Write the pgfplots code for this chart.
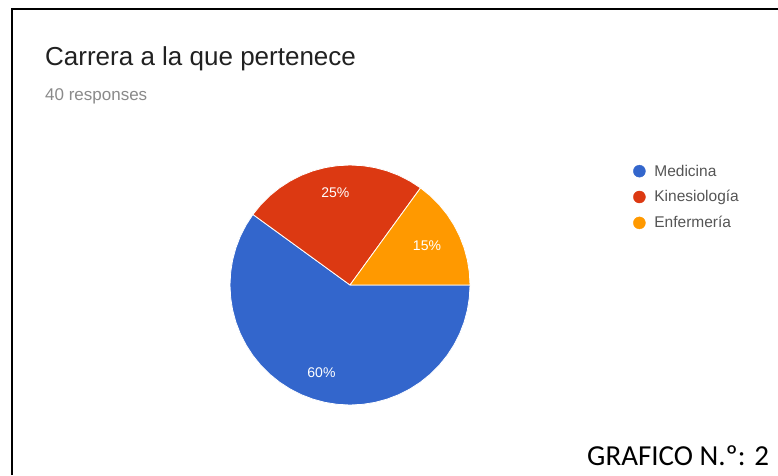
\documentclass[border=0pt]{standalone}
\usepackage{pgfplots}
\pgfplotsset{compat=1.18}
\usepgfplotslibrary{polar}
\usepackage{fontspec}
\setmainfont{Liberation Sans}
\newfontfamily\calibri{Carlito}
\definecolor{gblue}{HTML}{3366CC}
\definecolor{gred}{HTML}{DC3912}
\definecolor{gorange}{HTML}{FF9900}
\definecolor{titlecol}{HTML}{212121}
\definecolor{subcol}{HTML}{8A8A8A}
\definecolor{legcol}{HTML}{555555}
\begin{document}
\begin{tikzpicture}[x=1pt,y=1pt]
\useasboundingbox (0,0) rectangle (778,475);
\fill[white] (0,0) rectangle (778,475);
\draw[line width=2.5pt] (12,0) -- (12,466) -- (778,466);
\node[anchor=base west, inner sep=0pt, text=titlecol, font=\fontsize{26}{26}\selectfont] at (45,475-66) {Carrera a la que pertenece};
\node[anchor=base west, inner sep=0pt, text=subcol, font=\fontsize{17}{17}\selectfont] at (45,475-100) {40 responses};
\node[anchor=base west, inner sep=0pt, text=black, font=\calibri\fontsize{29}{29}\selectfont] at (587,10) {GRAFICO N.º: 2};
\begin{polaraxis}[
  at={(350pt,190pt)}, anchor=origin,
  scale only axis, width=240pt, height=240pt,
  ymin=0, ymax=1, hide axis, clip=false,
  legend style={draw=none, fill=none, inner sep=0pt, at={(1.68,1.01)}, anchor=north west,
    font=\fontsize{15.5}{15.5}\selectfont, text=legcol,
    row sep=9pt, cells={anchor=west},
    /tikz/every odd column/.append style={column sep=7pt}},
  legend cell align=left,
]
\addplot[fill=gblue, draw=white, line width=0.8pt, forget plot] coordinates {
(0,0) (144,1) (150,1) (156,1) (162,1) (168,1) (174,1) (180,1) (186,1) (192,1) (198,1)
(204,1) (210,1) (216,1) (222,1) (228,1) (234,1) (240,1) (246,1) (252,1) (258,1)
(264,1) (270,1) (276,1) (282,1) (288,1) (294,1) (300,1) (306,1) (312,1) (318,1)
(324,1) (330,1) (336,1) (342,1) (348,1) (354,1) (360,1) (0,0)};
\addplot[fill=gred, draw=white, line width=0.8pt, forget plot] coordinates {
(0,0) (54,1) (60,1) (66,1) (72,1) (78,1) (84,1) (90,1) (96,1) (102,1) (108,1)
(114,1) (120,1) (126,1) (132,1) (138,1) (144,1) (0,0)};
\addplot[fill=gorange, draw=white, line width=0.8pt, forget plot] coordinates {
(0,0) (0,1) (6,1) (12,1) (18,1) (24,1) (30,1) (36,1) (42,1) (48,1) (54,1) (0,0)};
\node[text=white, font=\fontsize{14}{14}\selectfont] at (axis cs:252,0.77) {60\%};
\node[text=white, font=\fontsize{14}{14}\selectfont] at (axis cs:99,0.78) {25\%};
\node[text=white, font=\fontsize{14}{14}\selectfont] at (axis cs:27,0.72) {15\%};
\addlegendimage{only marks, mark=*, mark size=6pt, color=gblue}
\addlegendentry{Medicina}
\addlegendimage{only marks, mark=*, mark size=6pt, color=gred}
\addlegendentry{Kinesiología}
\addlegendimage{only marks, mark=*, mark size=6pt, color=gorange}
\addlegendentry{Enfermería}
\end{polaraxis}
\end{tikzpicture}
\end{document}
